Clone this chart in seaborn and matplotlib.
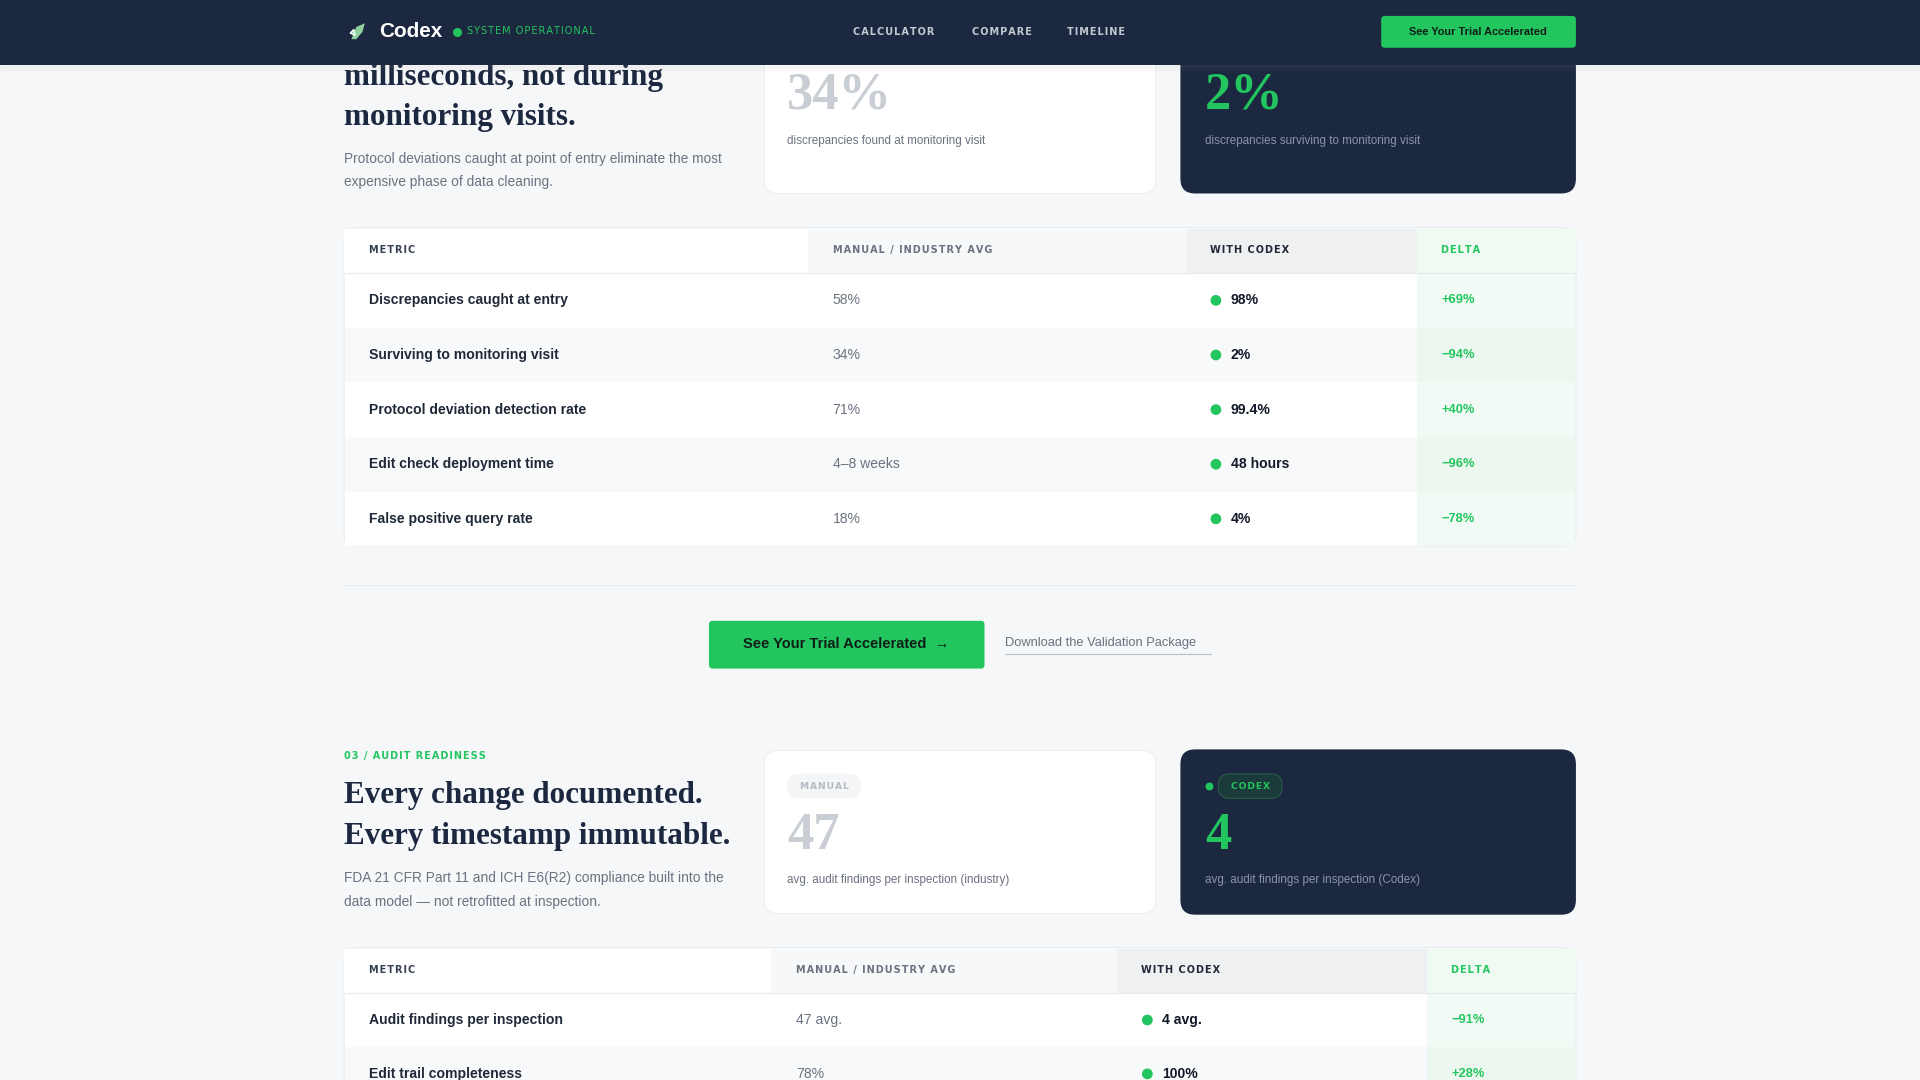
import matplotlib
matplotlib.use("Agg")
import matplotlib.pyplot as plt
import seaborn as sns
import pandas as pd
from matplotlib.patches import FancyBboxPatch, Rectangle, Polygon

# data
nav_links = ["CALCULATOR", "COMPARE", "TIMELINE"]
table1_metrics = ["Discrepancies caught at entry", "Surviving to monitoring visit",
                  "Protocol deviation detection rate", "Edit check deployment time",
                  "False positive query rate"]
table1_manual = ["58%", "34%", "71%", "4–8 weeks", "18%"]
table1_codex = ["98%", "2%", "99.4%", "48 hours", "4%"]
table1_delta = ["+69%", "−94%", "+40%", "−96%", "−78%"]
table2_metrics = ["Audit findings per inspection", "Edit trail completeness"]
table2_manual = ["47 avg.", "78%"]
table2_codex = ["4 avg.", "100%"]
table2_delta = ["−91%", "+28%"]
headers = ["METRIC", "MANUAL / INDUSTRY AVG", "WITH CODEX", "DELTA"]

NAVY = "#1c2840"
GREEN = "#22c55e"
BG = "#f5f7f9"
GREY = "#6b7280"

sns.set_theme(style="white")
plt.rcParams['font.family'] = ['Liberation Sans', 'DejaVu Sans']

W, H = 1568, 882
fig = plt.figure(figsize=(19.2, 10.8), dpi=100)
ax = fig.add_axes([0, 0, 1, 1])
ax.set_xlim(0, W)
ax.set_ylim(H, 0)
ax.axis("off")
fig.patch.set_facecolor(BG)
ax.set_facecolor(BG)

S = 0.88  # px -> pt
CAPS = ['DejaVu Sans']


def t(x, y, s, size, color=NAVY, weight="normal", ha="left", family=None, **kw):
    kws = dict(fontsize=size * S, color=color, fontweight=weight, ha=ha, va="center")
    if family:
        kws["family"] = family
    kws.update(kw)
    return ax.text(x, y, s, **kws)


def spaced(s):
    # crude letter spacing for uppercase labels
    return "\u200a".join(s)


def rbox(x0, y0, x1, y1, fc, r=10, ec="none", lw=0, z=1):
    ax.add_patch(FancyBboxPatch((x0 + r, y0 + r), x1 - x0 - 2 * r, y1 - y0 - 2 * r,
                                boxstyle=f"round,pad={r}", fc=fc, ec=ec, lw=lw, zorder=z))


SERIF = ['Liberation Serif', 'DejaVu Serif']

# --- top section ---
t(281, 63, "milliseconds, not during", 25.5, weight="bold", family=SERIF)
t(281, 96, "monitoring visits.", 25.5, weight="bold", family=SERIF)
t(281, 130, "Protocol deviations caught at point of entry eliminate the most", 11.3, GREY)
t(281, 149, "expensive phase of data cleaning.", 11.3, GREY)

rbox(624, 20, 944, 158, "white", r=12, ec="#eceef1", lw=0.8)
t(643, 78, "34%", 43, "#c9cdd4", weight="bold", family=SERIF)
t(643, 115, "discrepancies found at monitoring visit", 9.5, GREY)
rbox(964, 20, 1287, 158, NAVY, r=12)
t(984, 78, "2%", 43, GREEN, weight="bold", family=SERIF)
t(984, 115, "discrepancies surviving to monitoring visit", 9.5, "#8b95a7")


def table(y0, cols, texts_x, metrics, manual, codex, delta, row_h=44.6, y_end=None):
    hdr_h = 37
    n = len(metrics)
    y1 = y_end if y_end else y0 + hdr_h + n * row_h
    rbox(281, y0, 1287, y1, "white", r=10, ec="#e8ebee", lw=0.8)
    hdr_fc = ["white", "#f7f8fa", "#eef0f2", "#effaf3"]
    for i in range(4):
        ax.add_patch(Rectangle((cols[i], y0 + 1), cols[i + 1] - cols[i], hdr_h - 1,
                               fc=hdr_fc[i], ec="none", zorder=2))
    hdr_col = ["#374151", GREY, "#1f2937", GREEN]
    for i, h in enumerate(headers):
        t(texts_x[i], y0 + hdr_h / 2, spaced(h), 8, hdr_col[i], weight="bold", zorder=3,
          family=CAPS)
    ax.plot([281, 1287], [y0 + hdr_h, y0 + hdr_h], color="#e8ebee", lw=0.8, zorder=3)
    rows = pd.DataFrame({"metric": metrics, "manual": manual, "codex": codex, "delta": delta})
    rows["y"] = [y0 + hdr_h + (k + 0.5) * row_h for k in range(n)]
    for k, r in rows.iterrows():
        ry = y0 + hdr_h + k * row_h
        fc = "white" if k % 2 == 0 else "#f8f9fb"
        ax.add_patch(Rectangle((282, ry), cols[3] - 282, row_h, fc=fc, ec="none", zorder=2))
        ax.add_patch(Rectangle((cols[3], ry), 1286 - cols[3], row_h,
                               fc="#f1faf4" if k % 2 == 0 else "#ecf7ef", ec="none", zorder=2))
        t(texts_x[0], r.y, r.metric, 11.5, "#1f2937", weight="bold", zorder=3)
        t(texts_x[1], r.y, r.manual, 11.5, GREY, zorder=3)
        t(texts_x[2] + 17, r.y, r.codex, 11.5, "#111827", weight="bold", zorder=3)
        t(texts_x[3], r.y, r.delta, 10.5, GREEN, weight="bold", zorder=3)
    rows["dx"] = texts_x[2] + 5
    sns.scatterplot(data=rows, x="dx", y="y", ax=ax, color=GREEN, s=60,
                    edgecolor="none", zorder=4, legend=False)


table(186, [281, 660, 969, 1157, 1287], [301, 680, 988, 1177],
      table1_metrics, table1_manual, table1_codex, table1_delta)

ax.plot([281, 1287], [478, 478], color="#e9ecef", lw=0.8)

# CTA
rbox(579, 507, 804, 546, GREEN, r=3)
t(691, 526, "See Your Trial Accelerated  →", 12, "#0f1f17", weight="bold", ha="center")
t(821, 525, "Download the Validation Package", 10.5, GREY)
ax.plot([821, 989], [534, 534], color="#b8bec7", lw=0.8)

# --- audit section ---
t(281, 617, spaced("03 / AUDIT READINESS"), 8, GREEN, weight="bold", family=CAPS)
t(281, 650, "Every change documented.", 25.5, weight="bold", family=SERIF)
t(281, 683, "Every timestamp immutable.", 25.5, weight="bold", family=SERIF)
t(281, 717, "FDA 21 CFR Part 11 and ICH E6(R2) compliance built into the", 11.3, GREY)
t(281, 737, "data model — not retrofitted at inspection.", 11.3, GREY)

rbox(624, 613, 944, 746, "white", r=12, ec="#eceef1", lw=0.8)
rbox(643, 632, 703, 652, "#f4f5f7", r=9)
t(673, 642, spaced("MANUAL"), 7.5, "#b5bac2", weight="bold", ha="center", family=CAPS)
t(643, 683, "47", 43, "#c9cdd4", weight="bold", family=SERIF)
t(643, 719, "avg. audit findings per inspection (industry)", 9.5, GREY)

rbox(964, 612, 1287, 747, NAVY, r=12)
ax.scatter([987], [642], s=22, color=GREEN, zorder=5)
rbox(995, 632, 1047, 652, "#1b3b3a", r=9, ec="#2b5a48", lw=0.8, z=4)
t(1021, 642, spaced("CODEX"), 7.5, GREEN, weight="bold", ha="center", zorder=5, family=CAPS)
t(984, 683, "4", 43, GREEN, weight="bold", family=SERIF)
t(984, 719, "avg. audit findings per inspection (Codex)", 9.5, "#8b95a7")

table(774, [281, 630, 912, 1165, 1287], [301, 650, 932, 1185],
      table2_metrics, table2_manual, table2_codex, table2_delta, row_h=44, y_end=900)

# nav bar (drawn last, overlaps content)
ax.add_patch(Rectangle((0, 0), W, 53, fc=NAVY, ec="none", zorder=10))
for i in range(6):
    ax.add_patch(Rectangle((0, 53 + i), W, 1, fc="black", alpha=0.04 * (6 - i) / 6, zorder=10))
# rocket logo as a small shape
ax.add_patch(Polygon([(287, 32), (291, 22), (298, 19), (296, 26), (291, 32)],
                     closed=True, fc="#8fd19e", ec="none", zorder=11))
ax.add_patch(Polygon([(286, 27), (289, 24), (290, 29)], closed=True, fc="#8fd19e", zorder=11))
t(310, 26, "Codex", 17, "white", weight="bold", zorder=11)
ax.scatter([373], [26], s=30, color=GREEN, zorder=11)
t(381, 25, spaced("SYSTEM OPERATIONAL"), 8, GREEN, zorder=11, family=CAPS)
for x, s in zip([697, 794, 871], nav_links):
    t(x, 26, spaced(s), 8, "#c3c8d1", weight="bold", zorder=11, family=CAPS)
rbox(1128, 13, 1287, 39, GREEN, r=3, z=11)
t(1207, 26, "See Your Trial Accelerated", 9, "#0f1f17", weight="bold", ha="center", zorder=12)

fig.savefig("out.png", dpi=100, facecolor=BG)
